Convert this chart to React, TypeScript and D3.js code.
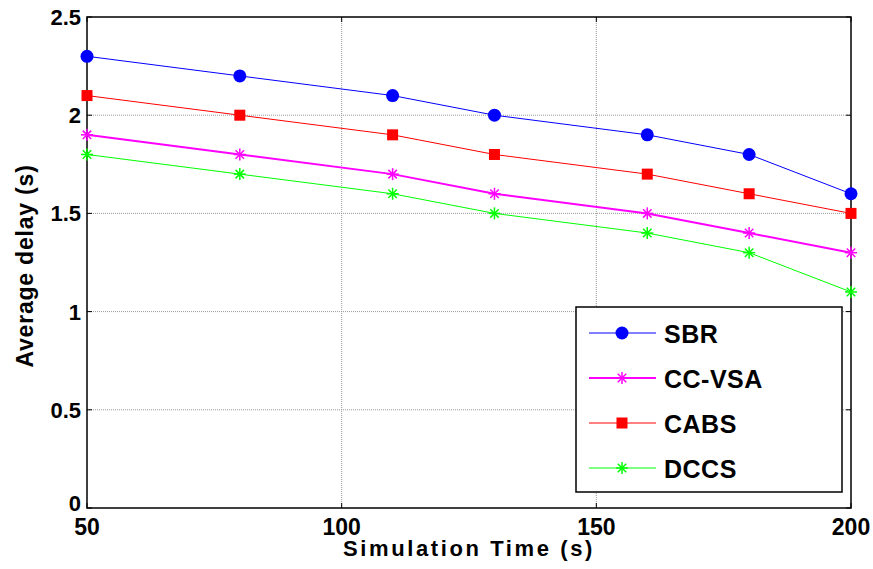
import React from "react";
import * as d3 from "d3";

const width = 873;
const height = 569;
const margin = { top: 17, right: 22, bottom: 61, left: 87 };

const times = [50, 80, 110, 130, 160, 180, 200];
const sbr = [2.3, 2.2, 2.1, 2.0, 1.9, 1.8, 1.6];
const ccvsa = [1.9, 1.8, 1.7, 1.6, 1.5, 1.4, 1.3];
const cabs = [2.1, 2.0, 1.9, 1.8, 1.7, 1.6, 1.5];
const dccs = [1.8, 1.7, 1.6, 1.5, 1.4, 1.3, 1.1];

const xTicks = [50, 100, 150, 200];
const yTicks = [0, 0.5, 1, 1.5, 2, 2.5];

const series = [
  { name: "SBR", values: sbr, color: "#0000ff", marker: "circle", lw: 1 },
  { name: "CC-VSA", values: ccvsa, color: "#ff00ff", marker: "star", lw: 2 },
  { name: "CABS", values: cabs, color: "#ff0000", marker: "square", lw: 1 },
  { name: "DCCS", values: dccs, color: "#00ff00", marker: "star", lw: 1 },
];

const font = "'Liberation Sans', Arial, sans-serif";

function Marker({ type, x, y, color }: { type: string; x: number; y: number; color: string }) {
  if (type === "circle") return <circle cx={x} cy={y} r={6.5} fill={color} />;
  if (type === "square") return <rect x={x - 5.5} y={y - 5.5} width={11} height={11} fill={color} />;
  const r = 6;
  const d = r * 0.707;
  return (
    <g stroke={color} strokeWidth={1.5}>
      <line x1={x - r} y1={y} x2={x + r} y2={y} />
      <line x1={x} y1={y - r} x2={x} y2={y + r} />
      <line x1={x - d} y1={y - d} x2={x + d} y2={y + d} />
      <line x1={x - d} y1={y + d} x2={x + d} y2={y - d} />
    </g>
  );
}

const App = () => {
  const x = d3.scaleLinear().domain([50, 200]).range([margin.left, width - margin.right]);
  const y = d3.scaleLinear().domain([0, 2.5]).range([height - margin.bottom, margin.top]);
  const line = d3
    .line<number>()
    .x((_, i) => x(times[i]))
    .y((d) => y(d));

  const x0 = x.range()[0];
  const x1 = x.range()[1];
  const y0 = y.range()[0];
  const y1 = y.range()[1];

  const legend = { x: 576, y: 307, w: 266, h: 185 };

  return (
    <svg width={width} height={height} style={{ position: "absolute", left: 0, top: 0 }}>
      <rect width={width} height={height} fill="#fff" />
      {/* grid */}
      {xTicks.slice(1, -1).map((t) => (
        <line key={"gx" + t} x1={x(t)} x2={x(t)} y1={y0} y2={y1} stroke="#999" strokeDasharray="1,1" strokeWidth={1} />
      ))}
      {yTicks.slice(1, -1).map((t) => (
        <line key={"gy" + t} x1={x0} x2={x1} y1={y(t)} y2={y(t)} stroke="#999" strokeDasharray="1,1" strokeWidth={1} />
      ))}
      {/* ticks */}
      {xTicks.map((t) => (
        <g key={"tx" + t} stroke="#000">
          <line x1={x(t)} x2={x(t)} y1={y0} y2={y0 - 5} />
          <line x1={x(t)} x2={x(t)} y1={y1} y2={y1 + 5} />
        </g>
      ))}
      {yTicks.map((t) => (
        <g key={"ty" + t} stroke="#000">
          <line x1={x0} x2={x0 + 5} y1={y(t)} y2={y(t)} />
          <line x1={x1} x2={x1 - 5} y1={y(t)} y2={y(t)} />
        </g>
      ))}
      <rect x={x0} y={y1} width={x1 - x0} height={y0 - y1} fill="none" stroke="#000" strokeWidth={1.5} />

      {series.map((s) => (
        <g key={s.name}>
          <path d={line(s.values) || ""} fill="none" stroke={s.color} strokeWidth={s.lw} />
          {s.values.map((v, i) => (
            <Marker key={i} type={s.marker} x={x(times[i])} y={y(v)} color={s.color} />
          ))}
        </g>
      ))}

      {/* tick labels */}
      {yTicks.map((t) => (
        <text
          key={"ly" + t}
          x={x0 - 6}
          y={y(t) + (t === 0 ? 3 : 8)}
          textAnchor="end"
          fontFamily={font}
          fontWeight="bold"
          fontSize={22}
        >
          {t}
        </text>
      ))}
      {xTicks.map((t) => (
        <text
          key={"lx" + t}
          x={x(t)}
          y={y0 + 27}
          textAnchor="middle"
          fontFamily={font}
          fontWeight="bold"
          fontSize={23}
        >
          {t}
        </text>
      ))}
      <text
        x={(x0 + x1) / 2}
        y={y0 + 48}
        textAnchor="middle"
        fontFamily={font}
        fontWeight="bold"
        fontSize={22}
        letterSpacing={2.6}
      >
        Simulation Time (s)
      </text>
      <text
        transform={`translate(33,266) rotate(-90)`}
        textAnchor="middle"
        fontFamily={font}
        fontWeight="bold"
        fontSize={23}
        letterSpacing={0.8}
      >
        Average delay (s)
      </text>

      {/* legend */}
      <rect x={legend.x} y={legend.y} width={legend.w} height={legend.h} fill="#fff" stroke="#000" strokeWidth={1.5} />
      {series.map((s, i) => {
        const ly = legend.y + 26 + i * 45;
        return (
          <g key={"lg" + s.name}>
            <line x1={589} x2={656} y1={ly} y2={ly} stroke={s.color} strokeWidth={s.lw} />
            <Marker type={s.marker} x={622} y={ly} color={s.color} />
            <text x={664} y={ly + 10} fontFamily={font} fontWeight="bold" fontSize={25} letterSpacing={0.5}>
              {s.name}
            </text>
          </g>
        );
      })}
    </svg>
  );
};

export default App;
